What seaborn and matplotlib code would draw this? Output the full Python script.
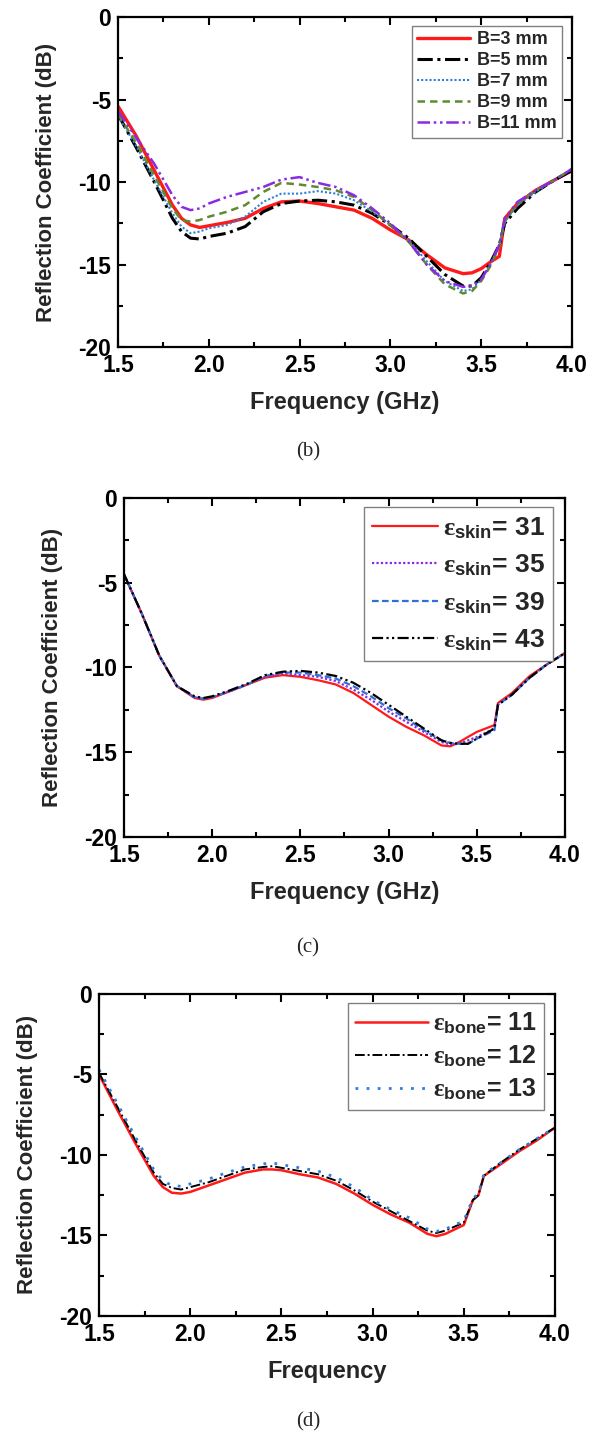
import numpy as np
import pandas as pd
import seaborn as sns
import matplotlib
matplotlib.use("Agg")
import matplotlib.pyplot as plt
from matplotlib.ticker import MultipleLocator, FuncFormatter

# ---- (b) Einfluss der Breite B ----
freq_b = [1.5, 1.6, 1.7, 1.8, 1.85, 1.9, 1.95, 2.0, 2.1, 2.2, 2.3, 2.4, 2.5, 2.6, 2.7, 2.8,
          2.9, 3.0, 3.1, 3.2, 3.3, 3.4, 3.45, 3.5, 3.55, 3.6, 3.63, 3.7, 3.8, 3.9, 4.0]
b_labels = ["B=3 mm", "B=5 mm", "B=7 mm", "B=9 mm", "B=11 mm"]
b3 = [-5.4, -7.2, -9.3, -11.4, -12.2, -12.6, -12.75, -12.65, -12.45, -12.2, -11.6, -11.2, -11.15, -11.3,
      -11.5, -11.7, -12.2, -12.9, -13.5, -14.4, -15.2, -15.55, -15.5, -15.25, -14.85, -14.5, -12.2,
      -11.3, -10.5, -9.9, -9.3]
b5 = [-5.9, -7.9, -10.0, -12.2, -13.0, -13.4, -13.45, -13.3, -13.1, -12.7, -11.8, -11.3, -11.15, -11.1,
      -11.2, -11.4, -11.9, -12.6, -13.4, -14.5, -15.6, -16.3, -16.3, -15.8, -14.9, -13.8, -12.5,
      -11.6, -10.6, -9.9, -9.3]
b7 = [-6.0, -7.8, -9.9, -11.9, -12.7, -13.1, -13.0, -12.8, -12.6, -12.1, -11.2, -10.7, -10.7, -10.55,
      -10.7, -11.1, -11.8, -12.6, -13.5, -14.8, -16.0, -16.6, -16.5, -15.9, -15.0, -13.8, -12.4,
      -11.4, -10.6, -9.9, -9.2]
b9 = [-5.9, -7.6, -9.6, -11.6, -12.3, -12.4, -12.3, -12.1, -11.8, -11.4, -10.6, -10.05, -10.15, -10.3,
      -10.5, -10.9, -11.7, -12.6, -13.6, -15.0, -16.2, -16.75, -16.6, -16.0, -15.1, -13.9, -12.4,
      -11.3, -10.5, -9.9, -9.2]
b11 = [-5.7, -7.3, -8.9, -10.8, -11.5, -11.7, -11.6, -11.3, -10.9, -10.6, -10.3, -9.85, -9.7, -10.05,
       -10.3, -10.8, -11.6, -12.5, -13.6, -15.0, -16.0, -16.35, -16.3, -15.9, -15.0, -13.8, -12.2,
       -11.2, -10.5, -9.9, -9.2]

# ---- (c) Permittivitaet Haut ----
freq_c = [1.5, 1.6, 1.7, 1.8, 1.9, 1.95, 2.0, 2.1, 2.2, 2.3, 2.4, 2.5, 2.6, 2.7, 2.8, 2.9, 3.0,
          3.1, 3.2, 3.3, 3.35, 3.4, 3.45, 3.5, 3.6, 3.62, 3.7, 3.8, 3.9, 4.0]
c_labels = [r"$\varepsilon_{\mathbf{skin}}$= 31", r"$\varepsilon_{\mathbf{skin}}$= 35",
            r"$\varepsilon_{\mathbf{skin}}$= 39", r"$\varepsilon_{\mathbf{skin}}$= 43"]
skin31 = [-4.5, -6.8, -9.3, -11.1, -11.8, -11.9, -11.8, -11.4, -11.0, -10.6, -10.45, -10.55, -10.75,
          -11.0, -11.5, -12.2, -12.9, -13.5, -14.0, -14.6, -14.65, -14.4, -14.1, -13.8, -13.4, -12.1,
          -11.5, -10.5, -9.8, -9.15]
skin35 = [-4.5, -6.8, -9.3, -11.1, -11.75, -11.85, -11.75, -11.4, -11.0, -10.55, -10.35, -10.45, -10.55,
          -10.8, -11.3, -11.9, -12.6, -13.2, -13.8, -14.4, -14.55, -14.5, -14.3, -14.1, -13.6, -12.2,
          -11.6, -10.6, -9.8, -9.15]
skin39 = [-4.5, -6.8, -9.3, -11.1, -11.75, -11.85, -11.75, -11.4, -11.0, -10.5, -10.3, -10.3, -10.45,
          -10.65, -11.1, -11.7, -12.4, -13.0, -13.7, -14.3, -14.45, -14.5, -14.5, -14.2, -13.7, -12.2,
          -11.6, -10.6, -9.8, -9.15]
skin43 = [-4.5, -6.8, -9.3, -11.1, -11.7, -11.8, -11.7, -11.35, -10.95, -10.45, -10.25, -10.2, -10.3,
          -10.5, -10.9, -11.5, -12.2, -12.9, -13.6, -14.3, -14.45, -14.5, -14.5, -14.2, -13.6, -12.2,
          -11.6, -10.6, -9.8, -9.15]

# ---- (d) Permittivitaet Knochen ----
freq_d = [1.5, 1.6, 1.7, 1.8, 1.85, 1.9, 1.95, 2.0, 2.1, 2.2, 2.3, 2.4, 2.45, 2.5, 2.6, 2.7, 2.8,
          2.9, 3.0, 3.1, 3.2, 3.3, 3.35, 3.4, 3.5, 3.55, 3.58, 3.61, 3.7, 3.8, 3.9, 4.0]
d_labels = [r"$\varepsilon_{\mathbf{bone}}$= 11", r"$\varepsilon_{\mathbf{bone}}$= 12",
            r"$\varepsilon_{\mathbf{bone}}$= 13"]
bone11 = [-5.0, -7.2, -9.3, -11.3, -12.0, -12.35, -12.4, -12.3, -11.9, -11.5, -11.1, -10.9, -10.9,
          -10.95, -11.2, -11.4, -11.8, -12.4, -13.1, -13.7, -14.2, -14.9, -15.05, -14.9, -14.35, -12.8,
          -12.5, -11.3, -10.6, -9.8, -9.1, -8.3]
bone12 = [-4.9, -7.0, -9.1, -11.1, -11.8, -12.05, -12.15, -12.0, -11.7, -11.3, -10.9, -10.75, -10.7,
          -10.8, -11.0, -11.2, -11.6, -12.2, -12.9, -13.5, -14.1, -14.7, -14.85, -14.7, -14.2, -12.8,
          -12.5, -11.3, -10.5, -9.7, -9.0, -8.3]
bone13 = [-4.7, -6.8, -8.9, -10.9, -11.6, -11.9, -11.95, -11.8, -11.5, -11.1, -10.75, -10.55, -10.5,
          -10.6, -10.8, -11.0, -11.4, -12.0, -12.8, -13.4, -13.9, -14.6, -14.75, -14.6, -14.1, -12.7,
          -12.4, -11.2, -10.5, -9.7, -9.0, -8.3]

sns.set_style("ticks")
plt.rcParams["font.family"] = ["Liberation Sans", "DejaVu Sans"]
plt.rcParams["font.weight"] = "bold"
plt.rcParams["axes.unicode_minus"] = False
plt.rcParams["mathtext.fontset"] = "custom"
plt.rcParams["mathtext.rm"] = "Liberation Serif"
plt.rcParams["mathtext.it"] = "Liberation Serif"
plt.rcParams["mathtext.bf"] = "Liberation Sans:bold"

fig = plt.figure(figsize=(5.89, 14.33), dpi=100)
ax_b = fig.add_axes([0.2003, 0.7578, 0.7708, 0.2303])
ax_c = fig.add_axes([0.2105, 0.4159, 0.7487, 0.2366])
ax_d = fig.add_axes([0.1681, 0.0817, 0.7742, 0.2247])


def style_axes(ax, xlabel):
    ax.set_xlim(1.5, 4.0)
    ax.set_ylim(-20, 0)
    ax.xaxis.set_major_locator(MultipleLocator(0.5))
    ax.xaxis.set_minor_locator(MultipleLocator(0.25))
    ax.yaxis.set_major_locator(MultipleLocator(5))
    ax.yaxis.set_minor_locator(MultipleLocator(2.5))
    ax.xaxis.set_major_formatter(FuncFormatter(lambda v, p: f"{v:.1f}"))
    ax.yaxis.set_major_formatter(FuncFormatter(lambda v, p: f"{v:.0f}"))
    ax.tick_params(which="both", direction="in", top=True, right=True, width=1.5, colors="black")
    ax.tick_params(which="major", length=6, labelsize=16.5, pad=5)
    ax.tick_params(which="minor", length=3.5)
    for lab in ax.get_xticklabels() + ax.get_yticklabels():
        lab.set_fontweight("bold")
    for sp in ax.spines.values():
        sp.set_linewidth(1.6)
        sp.set_color("black")
        sp.set_visible(True)
    ax.set_xlabel(xlabel, fontsize=17, fontweight="bold", labelpad=10)
    ax.set_ylabel("Reflection Coefficient (dB)", fontsize=16, fontweight="bold", labelpad=15)


# (b)
b_series = [b3, b5, b7, b9, b11]
b_colors = ["#ff1a1a", "#000000", "#2f7fd6", "#5f8a2e", "#8a2be2"]
b_styles = ["-", (0, (5, 1.5, 1, 1.5)), (0, (1, 1)), (0, (3, 2)), (0, (5, 1.5, 1, 1.5, 1, 1.5))]
b_widths = [2.4, 2.2, 1.5, 1.8, 1.8]
for vals, lab, col, ls, lw in zip(b_series, b_labels, b_colors, b_styles, b_widths):
    sns.lineplot(x=freq_b, y=vals, ax=ax_b, color=col, linestyle=ls, linewidth=lw, label=lab)
style_axes(ax_b, "Frequency (GHz)")
ax_b.legend(loc="upper right", bbox_to_anchor=(0.978, 0.973), borderaxespad=0, fancybox=False,
            edgecolor="#808080", framealpha=1, handlelength=2.9, labelspacing=0.22, borderpad=0.3,
            handletextpad=0.4, prop={"weight": "bold", "size": 13})

# (c)
c_series = [skin31, skin35, skin39, skin43]
c_colors = ["#ff1a1a", "#8a2be2", "#2f6fd6", "#000000"]
c_styles = ["-", (0, (1, 1)), (0, (3, 1.5)), (0, (5, 1.5, 1, 1.5, 1, 1.5))]
for vals, lab, col, ls in zip(c_series, c_labels, c_colors, c_styles):
    sns.lineplot(x=freq_c, y=vals, ax=ax_c, color=col, linestyle=ls, linewidth=1.6, label=lab)
style_axes(ax_c, "Frequency (GHz)")
ax_c.legend(loc="upper right", bbox_to_anchor=(0.973, 0.973), borderaxespad=0, fancybox=False,
            edgecolor="#808080", framealpha=1, handlelength=2.5, labelspacing=0.45, borderpad=0.3,
            handletextpad=0.2, prop={"weight": "bold", "size": 19})

# (d)
d_series = [bone11, bone12, bone13]
d_colors = ["#ff1a1a", "#000000", "#2f7fe0"]
d_styles = ["-", (0, (5, 1.5, 1, 1.5)), (0, (1, 3))]
d_widths = [1.8, 1.4, 2.0]
for vals, lab, col, ls, lw in zip(d_series, d_labels, d_colors, d_styles, d_widths):
    sns.lineplot(x=freq_d, y=vals, ax=ax_d, color=col, linestyle=ls, linewidth=lw, label=lab)
style_axes(ax_d, "Frequency")
ax_d.legend(loc="upper right", bbox_to_anchor=(0.976, 0.972), borderaxespad=0, fancybox=False,
            edgecolor="#808080", framealpha=1, handlelength=2.9, labelspacing=0.3, borderpad=0.3,
            handletextpad=0.2, prop={"weight": "bold", "size": 18})

# Bildunterschriften
for txt, yy in [("(b)", 0.6846), ("(c)", 0.3385), ("(d)", 0.0077)]:
    fig.text(0.523, yy, txt, ha="center", va="center", fontsize=15,
             family="Liberation Serif", fontweight="normal")

fig.savefig("out.png", dpi=100)
